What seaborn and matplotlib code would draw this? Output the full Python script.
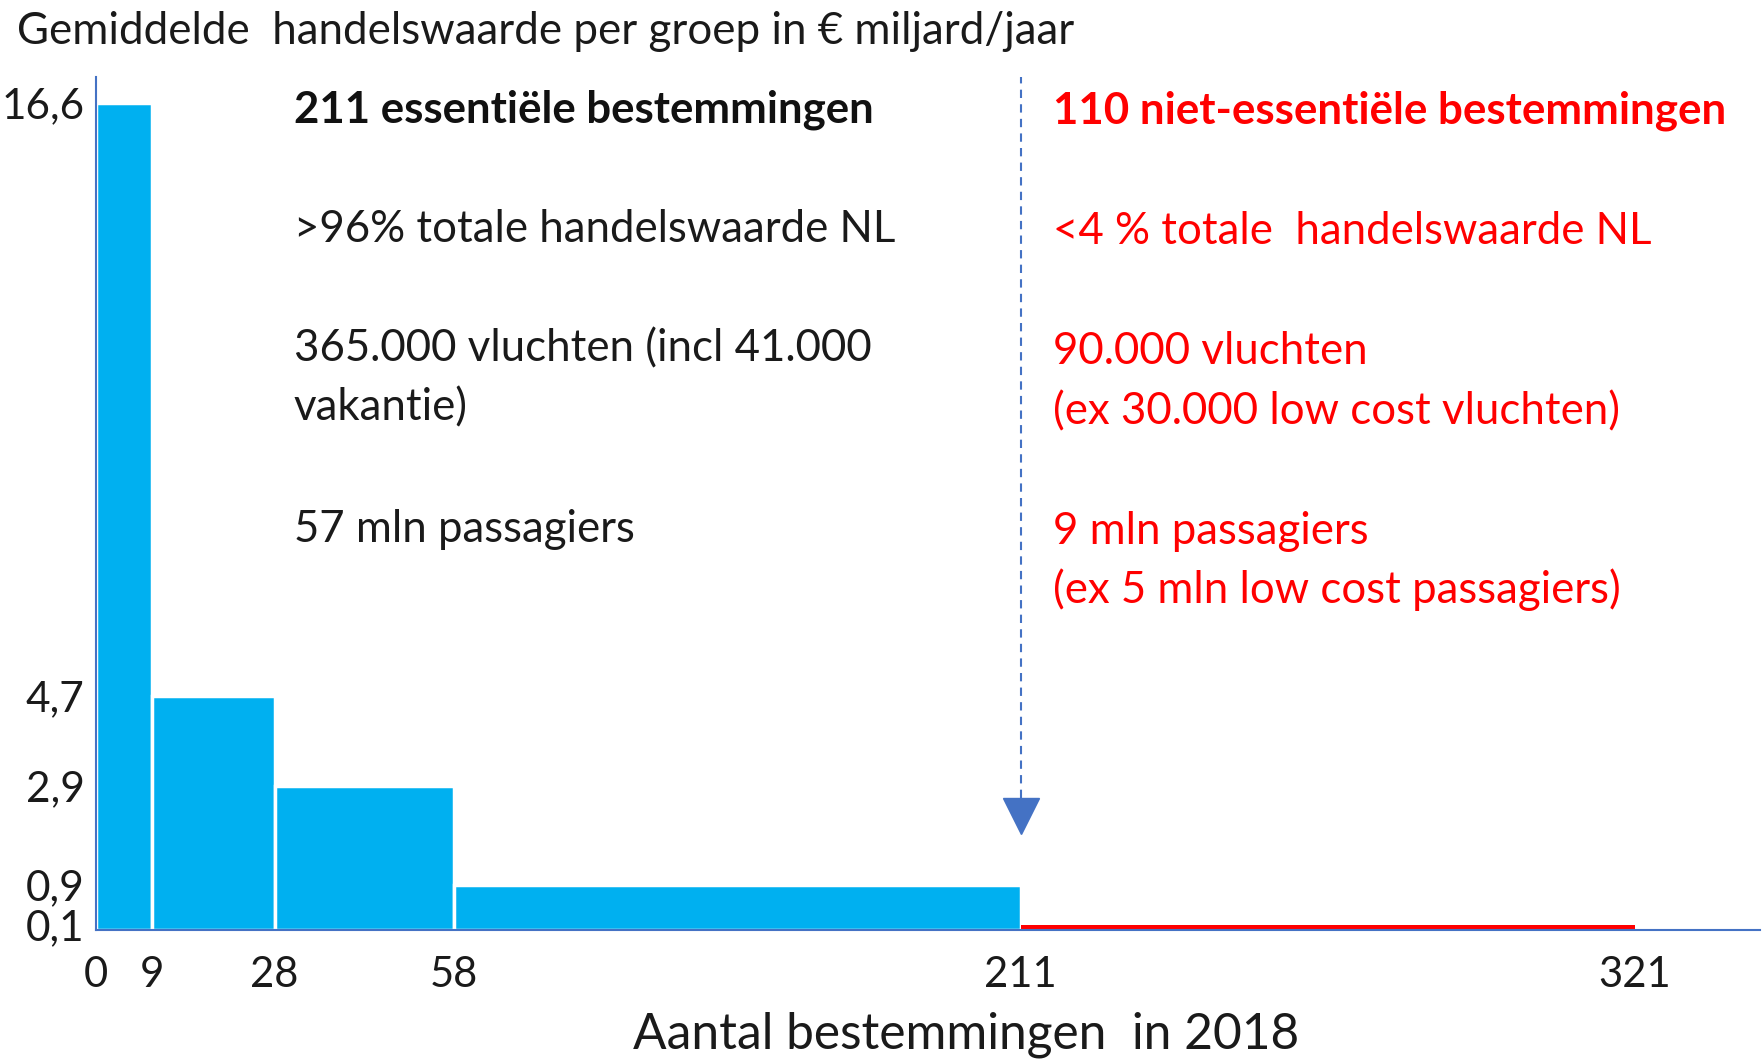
import numpy as np
import matplotlib
matplotlib.use("Agg")
import matplotlib.pyplot as plt
import seaborn as sns

# ---------------- data ----------------
group_edges = [0, 9, 28, 58, 211, 321]
essential_values = [16.6, 4.7, 2.9, 0.9]
nonessential_values = [0.1]
ytick_values = [0.1, 0.9, 2.9, 4.7, 16.6]
ytick_labels = ["0,1", "0,9", "2,9", "4,7", "16,6"]
xtick_values = [0, 9, 28, 58, 211, 321]
xtick_labels = ["0", "9", "28", "58", "211", "321"]
boundary = 211

title = "Gemiddelde  handelswaarde per groep in € miljard/jaar"
xlabel = "Aantal bestemmingen  in 2018"
left_heading = "211 essentiële bestemmingen"
left_lines = [">96% totale handelswaarde NL", "365.000 vluchten (incl 41.000",
              "vakantie)", "57 mln passagiers"]
right_heading = "110 niet-essentiële bestemmingen"
right_lines = ["<4 % totale  handelswaarde NL", "90.000 vluchten",
               "(ex 30.000 low cost vluchten)", "9 mln passagiers",
               "(ex 5 mln low cost passagiers)"]

# ---------------- layout / style ----------------
W, H = 1762, 1064
edge_px = [0, 56, 179, 358, 925, 1539]   # display offset of each group edge
BLUE = "#00B0F0"
RED = "#FF0000"
AXBLUE = "#4472C4"

sns.set_style("white")
plt.rcParams["font.family"] = ["Lato", "DejaVu Sans"]

fig = plt.figure(figsize=(W / 100, H / 100), dpi=100)
ax_left, ax_right, ax_top, ax_bot = 95.5, 1760, 77, 930
ax = fig.add_axes([ax_left / W, 1 - ax_bot / H, (ax_right - ax_left) / W, (ax_bot - ax_top) / H])

E = np.array(group_edges, float)
P = np.array(edge_px, float)
s_hi = (P[-1] - P[-2]) / (E[-1] - E[-2])
s_lo = (P[1] - P[0]) / (E[1] - E[0])


def fwd(x):
    x = np.asarray(x, float)
    y = np.interp(x, E, P)
    y = np.where(x > E[-1], P[-1] + (x - E[-1]) * s_hi, y)
    y = np.where(x < E[0], P[0] + (x - E[0]) * s_lo, y)
    return y


def inv(y):
    y = np.asarray(y, float)
    x = np.interp(y, P, E)
    x = np.where(y > P[-1], E[-1] + (y - P[-1]) / s_hi, x)
    x = np.where(y < P[0], E[0] + (y - P[0]) / s_lo, x)
    return x


ess_edges = group_edges[:len(essential_values) + 1]
ess_mid = [(a + b) / 2 for a, b in zip(ess_edges[:-1], ess_edges[1:])]
non_edges = group_edges[len(essential_values):]
non_mid = [(a + b) / 2 for a, b in zip(non_edges[:-1], non_edges[1:])]

sns.histplot(x=ess_mid, weights=essential_values, bins=ess_edges, color=BLUE,
             alpha=1, edgecolor="white", linewidth=2.5, ax=ax)
sns.histplot(x=non_mid, weights=nonessential_values, bins=non_edges, color=RED,
             alpha=1, edgecolor="none", linewidth=0, ax=ax)

# piecewise axis scale applied after the bars are built
ax.set_xscale("function", functions=(fwd, inv))

px_per_unit = (ax_bot - 103) / 16.6
ymax = (ax_bot - ax_top) / px_per_unit
x_right = inv(ax_right - ax_left)
ax.set_xlim(0, float(x_right))
ax.set_ylim(0, ymax)

# dashed divider with arrow head
head_c = (ax_bot - 816) / px_per_unit
head_top = (ax_bot - 798) / px_per_unit
ax.plot([boundary, boundary], [head_top, ymax], ls=(0, (4, 3)), color=AXBLUE, lw=1.5, clip_on=False)
ax.plot([boundary], [head_c], marker="v", ms=26, color=AXBLUE, mec=AXBLUE, clip_on=False)

ax.set_yticks(ytick_values)
ax.set_yticklabels(ytick_labels)
ax.set_xticks(xtick_values)
ax.set_xticklabels(xtick_labels)
ax.minorticks_off()
ax.tick_params(axis="both", length=0, colors="#1a1a1a")
ax.tick_params(axis="y", pad=8)
ax.tick_params(axis="x", pad=19)
ax.set_ylabel("")
ax.set_xlabel(xlabel, color="#1a1a1a")
for sp in ["top", "right"]:
    ax.spines[sp].set_visible(False)
for sp in ["left", "bottom"]:
    ax.spines[sp].set_color(AXBLUE)
    ax.spines[sp].set_linewidth(1.5)

# texts
t_title = fig.text(17 / W, 1 - 32 / H, title, va="center", ha="left", color="#1a1a1a")
lx, rx = 294 / W, 1053 / W
t_lh = fig.text(lx, 1 - 110 / H, left_heading, va="center", ha="left", weight="bold", color="#111111")
left_y = [230, 349, 408, 529]
t_left = [fig.text(lx, 1 - y / H, s, va="center", ha="left", color="#1a1a1a") for s, y in zip(left_lines, left_y)]
t_rh = fig.text(rx, 1 - 111 / H, right_heading, va="center", ha="left", weight="bold", color=RED)
right_y = [232, 351, 412, 531, 590]
t_right = [fig.text(rx, 1 - y / H, s, va="center", ha="left", color=RED) for s, y in zip(right_lines, right_y)]

# fit font sizes to the reference widths
fig.canvas.draw()
r = fig.canvas.get_renderer()


def factor(t, target):
    return target / t.get_window_extent(r).width


t_title.set_fontsize(t_title.get_fontsize() * factor(t_title, 1059))
t_lh.set_fontsize(t_lh.get_fontsize() * factor(t_lh, 582))
t_rh.set_fontsize(t_rh.get_fontsize() * factor(t_rh, 674))
f = factor(t_left[0], 601)
for t in t_left + t_right:
    t.set_fontsize(t.get_fontsize() * f)
xl = ax.xaxis.label
xl.set_fontsize(xl.get_fontsize() * factor(xl, 665))
ylab = [t for t in ax.get_yticklabels() if t.get_text() == "16,6"][0]
ysz = ylab.get_fontsize() * factor(ylab, 84)
xlab = [t for t in ax.get_xticklabels() if t.get_text() == "321"][0]
xsz = xlab.get_fontsize() * factor(xlab, 73)
ax.tick_params(axis="y", labelsize=ysz)
ax.tick_params(axis="x", labelsize=xsz)
ax.xaxis.set_label_coords((966 - ax_left) / (ax_right - ax_left), (ax_bot - 1012) / (ax_bot - ax_top))

fig.savefig("out.png", dpi=100)
